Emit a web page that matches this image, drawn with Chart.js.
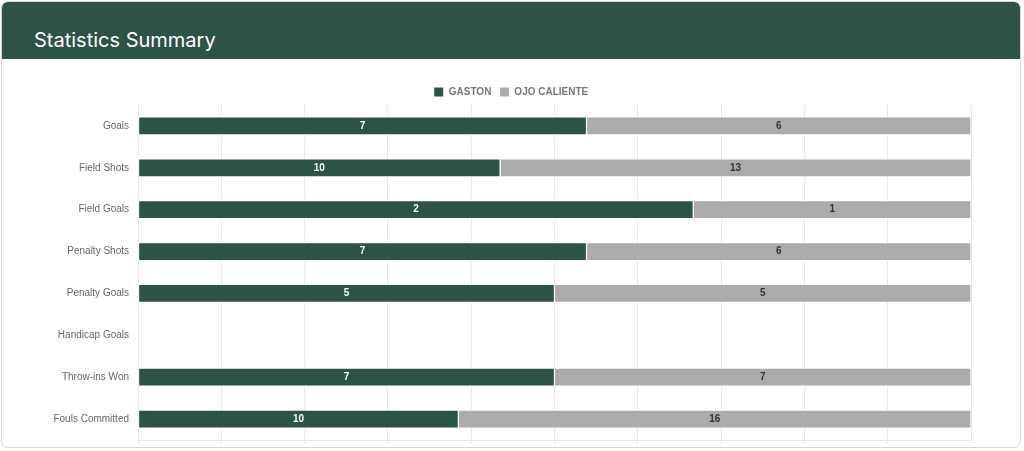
<!DOCTYPE html>
<html>
<head>
<meta charset="utf-8">
<script src="https://cdn.jsdelivr.net/npm/chart.js@4.4.1/dist/chart.umd.min.js"></script>
<style>
  html, body { margin: 0; padding: 0; background: #ffffff; width: 1024px; height: 451px; overflow: hidden; }
  .card { position: absolute; left: 1px; top: 1px; width: 1020px; height: 447px; border: 1px solid #d6d6d6; border-radius: 7px; overflow: hidden; background: #fff; box-sizing: border-box; }
  .header { position: absolute; left: 0; top: 0; width: 100%; height: 57px; background: #2d5248; }
  .header h1 { margin: 0; position: absolute; left: 32px; top: 26px; font-family: Inter, "Noto Sans", sans-serif; font-weight: 400; font-size: 20px; line-height: 24px; color: #ffffff; }
  .chartbox { position: absolute; left: 0; top: 57px; width: 1018px; height: 388px; }
</style>
</head>
<body>
<div class="card">
  <div class="header"><h1>Statistics Summary</h1></div>
  <div class="chartbox"><canvas id="c"></canvas></div>
</div>
<script>
const categories = ["Goals", "Field Shots", "Field Goals", "Penalty Shots", "Penalty Goals", "Handicap Goals", "Throw-ins Won", "Fouls Committed"];
const seriesNames = ["GASTON", "OJO CALIENTE"];
const gastonValues = [7, 10, 2, 7, 5, 0, 7, 10];
const ojoValues = [6, 13, 1, 6, 5, 0, 7, 16];

function pct(a, b, i) {
  const t = a[i] + b[i];
  return t === 0 ? 0 : (a[i] / t) * 100;
}
const gastonPct = gastonValues.map((v, i) => pct(gastonValues, ojoValues, i));
const ojoPct = ojoValues.map((v, i) => pct(ojoValues, gastonValues, i));
const rawValues = [gastonValues, ojoValues];

const labelPlugin = {
  id: 'valueLabels',
  afterLayout(chart) {
    // center legend over the full canvas width and nudge it down slightly
    if (chart.legend) {
      chart.legend.left = 0;
      chart.legend.right = chart.width;
      chart.legend.width = chart.width;
      chart.legend.top += 2;
    }
  },
  afterDatasetsDraw(chart) {
    const ctx = chart.ctx;
    ctx.save();
    ctx.font = 'bold 10px "Liberation Sans", Arial, sans-serif';
    ctx.textAlign = 'center';
    ctx.textBaseline = 'middle';
    chart.data.datasets.forEach((ds, di) => {
      const meta = chart.getDatasetMeta(di);
      meta.data.forEach((bar, i) => {
        const v = rawValues[di][i];
        if (!v) return;
        const p = bar.getProps(['x', 'y', 'base'], true);
        const cx = (p.x + p.base) / 2;
        ctx.fillStyle = di === 0 ? '#ffffff' : '#333333';
        ctx.fillText(String(v), cx, p.y);
      });
    });
    ctx.restore();
  }
};

new Chart(document.getElementById('c'), {
  type: 'bar',
  data: {
    labels: categories,
    datasets: [
      { label: seriesNames[0], data: gastonPct, backgroundColor: '#2d5248', borderColor: '#ffffff', borderWidth: 1, borderSkipped: false, barThickness: 18 },
      { label: seriesNames[1], data: ojoPct, backgroundColor: '#adabaa', borderColor: '#ffffff', borderWidth: 1, borderSkipped: false, barThickness: 18 }
    ]
  },
  options: {
    indexAxis: 'y',
    responsive: true,
    maintainAspectRatio: false,
    animation: false,
    layout: { padding: { top: 18, right: 49, bottom: 3, left: 0 } },
    plugins: {
      legend: {
        display: true,
        position: 'top',
        labels: {
          boxWidth: 10, boxHeight: 10,
          color: '#777777',
          font: { family: '"Liberation Sans", Arial, sans-serif', size: 10, weight: 'bold' },
          padding: 8
        }
      },
      tooltip: { enabled: false }
    },
    scales: {
      x: {
        stacked: true,
        min: 0, max: 100,
        ticks: { display: false, stepSize: 10 },
        grid: { color: '#e6e6e6', drawTicks: true, tickLength: 4 },
        border: { color: '#e6e6e6' }
      },
      y: {
        stacked: true,
        ticks: { color: '#666666', font: { family: '"Liberation Sans", Arial, sans-serif', size: 10 }, padding: 9 },
        grid: { display: false, drawTicks: false },
        border: { display: false },
        afterFit(scale) { scale.width = 136; scale.paddingTop = 0; scale.paddingBottom = 0; }
      }
    }
  },
  plugins: [labelPlugin]
});
</script>
</body>
</html>
